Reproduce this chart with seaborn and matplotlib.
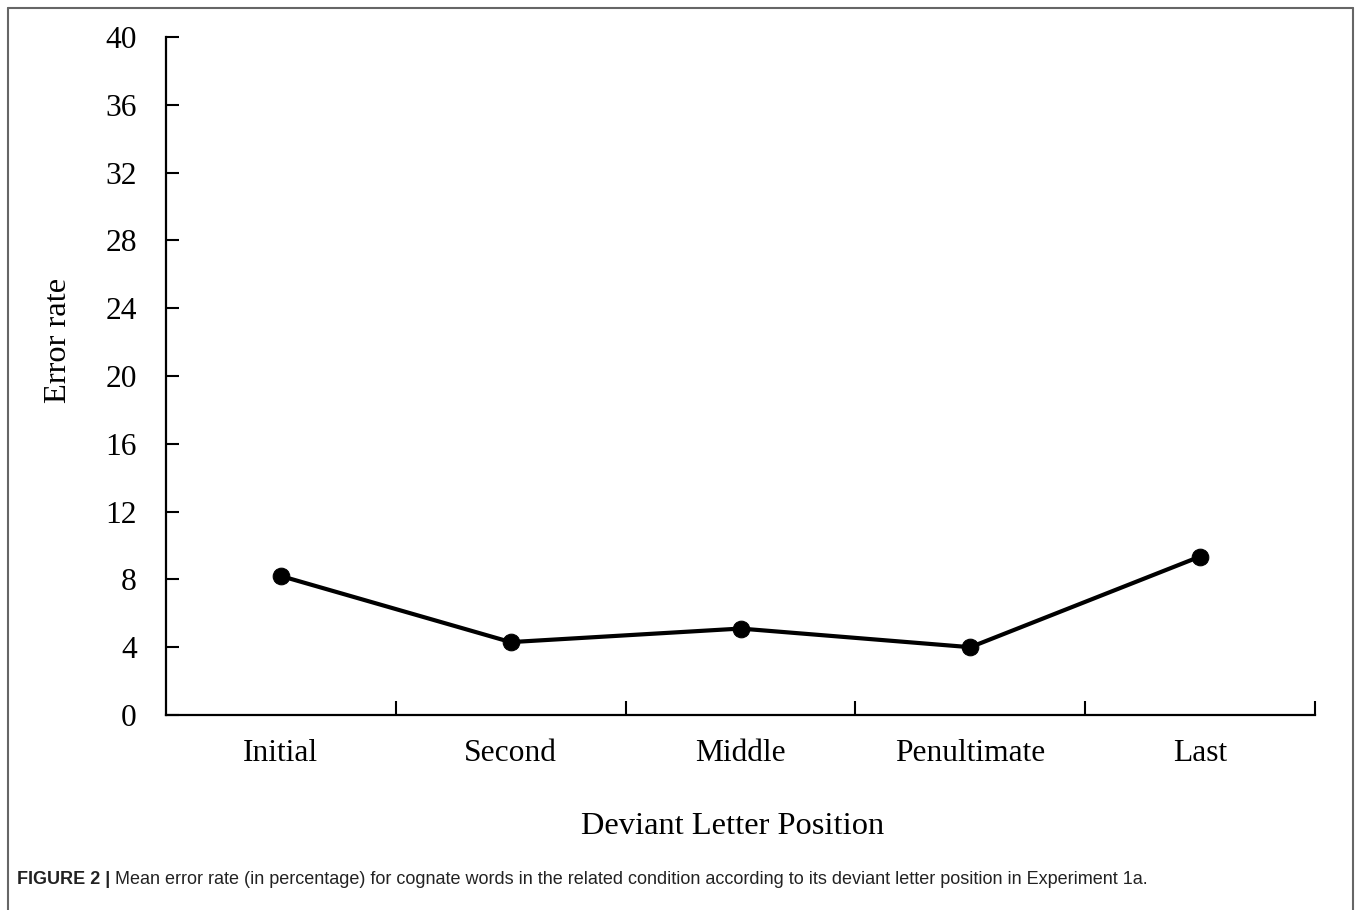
import matplotlib
matplotlib.use('Agg')
import pandas as pd
from matplotlib import pyplot as plt
from matplotlib.lines import Line2D
import seaborn as sns

positions = ['Initial', 'Second', 'Middle', 'Penultimate', 'Last']
error_rate = [8.2, 4.3, 5.1, 4.0, 9.35]
y_ticks = [0, 4, 8, 12, 16, 20, 24, 28, 32, 36, 40]
caption_bold = 'FIGURE 2 |'
caption_rest = (' Mean error rate (in percentage) for cognate words in the related condition '
                'according to its deviant letter position in Experiment 1a.')

df = pd.DataFrame({'pos': range(len(positions)), 'err': error_rate})

sns.set_theme(style='white')
plt.rcParams['font.family'] = ['Liberation Serif', 'DejaVu Serif']
plt.rcParams['text.color'] = 'black'
plt.rcParams['axes.labelcolor'] = 'black'
plt.rcParams['xtick.color'] = 'black'
plt.rcParams['ytick.color'] = 'black'

fig = plt.figure(figsize=(13.58, 9.10), dpi=100)
ax = fig.add_axes([166 / 1358, 1 - 715 / 910, (1315 - 166) / 1358, (715 - 37) / 910])

sns.lineplot(data=df, x='pos', y='err', ax=ax, color='black', linewidth=3,
             marker='o', markersize=12, markeredgecolor='black')

ax.set_xlim(-0.5, len(positions) - 0.5)
ax.set_ylim(0, 40)
ax.set_yticks(y_ticks)
ax.set_xticks([i + 0.5 for i in range(len(positions))])
ax.set_xticklabels([])
ax.set_xticks(range(len(positions)), minor=True)
ax.set_xticklabels(positions, minor=True)
ax.tick_params(axis='x', which='major', direction='in', length=10, width=1.5,
               color='black', bottom=True)
ax.tick_params(axis='x', which='minor', length=0, pad=17, labelsize=22.7, bottom=True)
ax.tick_params(axis='y', direction='in', length=9, width=1.5, color='black',
               pad=21, labelsize=22.7, left=True)

for side in ['top', 'right']:
    ax.spines[side].set_visible(False)
for side in ['left', 'bottom']:
    ax.spines[side].set_color('black')
    ax.spines[side].set_linewidth(1.6)

ax.set_xlabel('Deviant Letter Position', fontsize=23.4)
ax.xaxis.set_label_coords((733 - 166) / 1149, -(812 - 715) / 678)
ax.set_ylabel('Error rate', fontsize=23.4)
ax.yaxis.set_label_coords(-(166 - 73) / 1149, 1 - (340 - 37) / 678)

# frame around the figure panel (open at the bottom)
fc = '#666666'
fig.add_artist(Line2D([8 / 1358, 8 / 1358], [0, 1 - 8 / 910], transform=fig.transFigure, color=fc, lw=1.5))
fig.add_artist(Line2D([8 / 1358, 1353 / 1358], [1 - 8 / 910, 1 - 8 / 910], transform=fig.transFigure, color=fc, lw=1.5))
fig.add_artist(Line2D([1353 / 1358, 1353 / 1358], [0, 1 - 8 / 910], transform=fig.transFigure, color=fc, lw=1.5))

t1 = fig.text(17 / 1358, 1 - 884 / 910, caption_bold, fontsize=13, fontweight='bold',
              family=['Liberation Sans', 'DejaVu Sans'], color='#222222')
ax.annotate(caption_rest, xy=(1, 0), xycoords=t1, va='bottom', fontsize=13,
            family=['Liberation Sans', 'DejaVu Sans'], color='#222222', annotation_clip=False)

fig.savefig('out.png', dpi=100)
